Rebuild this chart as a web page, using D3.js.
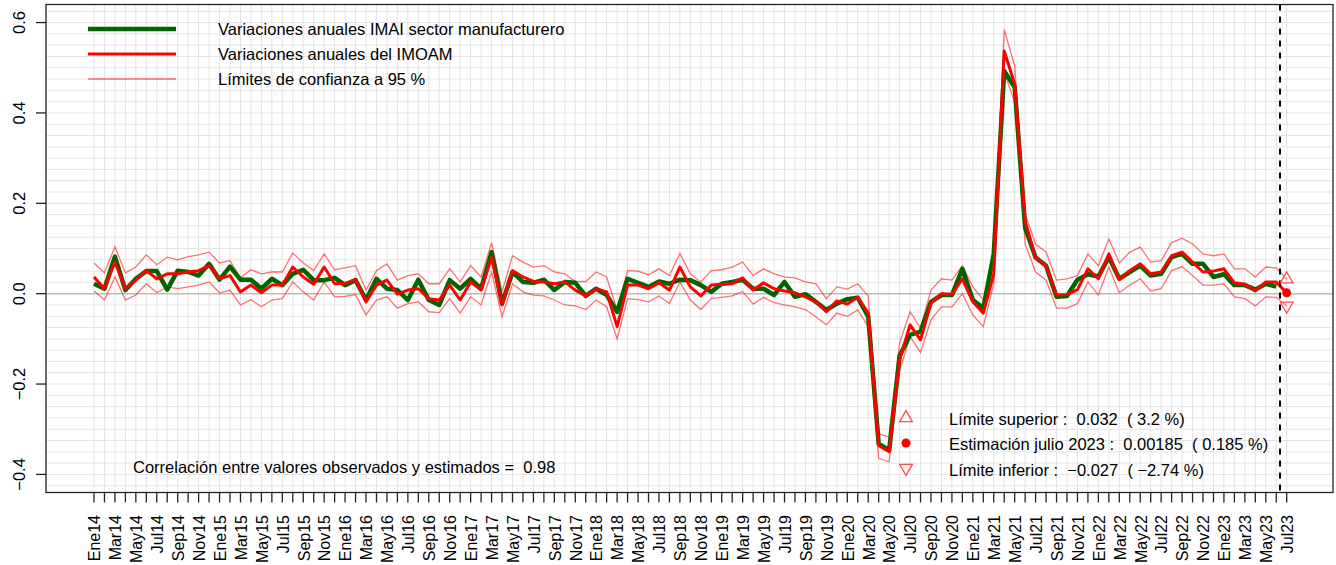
<!DOCTYPE html>
<html>
<head>
<meta charset="utf-8">
<script src="https://cdn.jsdelivr.net/npm/d3@7"></script>
<style>
  body { margin: 0; background: #fff; }
  svg { display: block; font-family: "Liberation Sans", Arial, sans-serif; }
  text { white-space: pre; fill: #000; }
</style>
</head>
<body>
<svg id="chart" width="1336" height="565"></svg>
<script>
// meses (etiquetas de eje)
const mesNombres = ["Ene","Feb","Mar","Abr","May","Jun","Jul","Ago","Sep","Oct","Nov","Dic"];
const anios = ["14","15","16","17","18","19","20","21","22","23"];

// variaciones anuales IMAI sector manufacturero (observado, Ene14 - Jun23)
const observado = [
  0.022, 0.011, 0.082, 0.008, 0.033, 0.050, 0.050, 0.009, 0.051, 0.048, 0.040, 0.066,
  0.031, 0.060, 0.031, 0.031, 0.011, 0.033, 0.019, 0.044, 0.053, 0.030, 0.030, 0.035,
  0.019, 0.030, -0.014, 0.033, 0.011, 0.008, -0.014, 0.031, -0.014, -0.025, 0.030, 0.011,
  0.033, 0.011, 0.092, -0.022, 0.048, 0.026, 0.024, 0.031, 0.008, 0.026, 0.024, -0.005,
  0.011, -0.003, -0.040, 0.033, 0.024, 0.015, 0.027, 0.022, 0.031, 0.030, 0.019, 0.004,
  0.022, 0.026, 0.031, 0.011, 0.011, -0.003, 0.026, -0.007, -0.001, -0.018, -0.036, -0.022,
  -0.012, -0.009, -0.051, -0.332, -0.347, -0.138, -0.091, -0.084, -0.018, -0.003, -0.003, 0.055,
  -0.014, -0.032, 0.088, 0.493, 0.457, 0.146, 0.080, 0.062, -0.007, -0.005, 0.031, 0.043,
  0.038, 0.081, 0.033, 0.048, 0.062, 0.040, 0.044, 0.081, 0.088, 0.066, 0.066, 0.037,
  0.043, 0.019, 0.019, 0.009, 0.022, 0.016
];

// variaciones anuales del IMOAM (estimado, Ene14 - Jul23)
const estimado = [
  0.037, 0.011, 0.070, 0.011, 0.030, 0.051, 0.033, 0.044, 0.044, 0.048, 0.051, 0.062,
  0.033, 0.040, 0.004, 0.019, 0.002, 0.019, 0.019, 0.059, 0.037, 0.021, 0.059, 0.022,
  0.023, 0.031, -0.018, 0.019, 0.030, -0.001, 0.008, 0.011, -0.011, -0.014, 0.019, -0.014,
  0.026, 0.008, 0.081, -0.025, 0.051, 0.037, 0.027, 0.026, 0.022, 0.026, 0.008, -0.005,
  0.011, 0.004, -0.073, 0.019, 0.019, 0.011, 0.024, 0.008, 0.059, 0.015, -0.005, 0.019,
  0.021, 0.022, 0.035, 0.008, 0.024, 0.011, 0.006, 0.002, -0.007, -0.018, -0.040, -0.016,
  -0.023, -0.008, -0.043, -0.336, -0.350, -0.146, -0.069, -0.102, -0.021, 0.000, -0.002, 0.033,
  -0.018, -0.043, 0.044, 0.537, 0.464, 0.161, 0.079, 0.062, -0.003, -0.002, 0.009, 0.055,
  0.033, 0.088, 0.031, 0.051, 0.066, 0.044, 0.048, 0.084, 0.092, 0.070, 0.048, 0.050,
  0.055, 0.024, 0.021, 0.006, 0.026, 0.026, 0.00185
];

// limites de confianza a 95 %
const limSup = [
  0.068, 0.046, 0.104, 0.046, 0.059, 0.086, 0.064, 0.081, 0.075, 0.082, 0.086, 0.092,
  0.068, 0.073, 0.035, 0.053, 0.044, 0.048, 0.048, 0.090, 0.068, 0.051, 0.088, 0.053,
  0.057, 0.062, 0.008, 0.051, 0.066, 0.030, 0.040, 0.044, 0.022, 0.022, 0.055, 0.026,
  0.062, 0.037, 0.113, 0.004, 0.084, 0.070, 0.059, 0.062, 0.048, 0.044, 0.027, 0.027,
  0.048, 0.037, -0.036, 0.051, 0.050, 0.042, 0.055, 0.040, 0.089, 0.044, 0.026, 0.051,
  0.053, 0.059, 0.070, 0.040, 0.055, 0.044, 0.037, 0.035, 0.026, 0.022, -0.011, 0.015,
  0.010, 0.022, -0.005, -0.310, -0.317, -0.109, -0.040, -0.076, 0.008, 0.033, 0.030, 0.062,
  0.015, -0.014, 0.077, 0.584, 0.504, 0.176, 0.110, 0.092, 0.030, 0.033, 0.040, 0.088,
  0.062, 0.121, 0.068, 0.092, 0.103, 0.070, 0.073, 0.113, 0.123, 0.110, 0.088, 0.084,
  0.088, 0.055, 0.055, 0.037, 0.059, 0.057, 0.032
];
const limInf = [
  0.006, -0.014, 0.037, -0.014, -0.003, 0.022, 0.002, 0.015, 0.011, 0.015, 0.019, 0.026,
  0.002, 0.008, -0.025, -0.013, -0.029, -0.014, -0.011, 0.026, 0.004, -0.014, 0.026, -0.007,
  -0.006, -0.002, -0.047, -0.014, -0.007, -0.032, -0.022, -0.018, -0.040, -0.042, -0.011, -0.043,
  -0.007, -0.025, 0.048, -0.051, 0.022, 0.004, -0.003, -0.005, -0.014, -0.025, -0.027, -0.035,
  -0.014, -0.029, -0.100, -0.011, -0.013, -0.018, -0.005, -0.022, 0.026, -0.014, -0.035, -0.011,
  -0.008, -0.005, 0.005, -0.023, -0.008, -0.020, -0.025, -0.029, -0.035, -0.051, -0.069, -0.043,
  -0.050, -0.036, -0.073, -0.365, -0.372, -0.171, -0.095, -0.130, -0.058, -0.029, -0.029, 0.000,
  -0.047, -0.073, 0.022, 0.490, 0.424, 0.110, 0.048, 0.030, -0.032, -0.032, -0.022, 0.026,
  -0.003, 0.059, 0.002, 0.019, 0.033, 0.006, 0.011, 0.051, 0.060, 0.040, 0.019, 0.019,
  0.022, -0.007, -0.011, -0.027, -0.007, -0.008, -0.027
];

const yTicks = [-0.4, -0.2, 0.0, 0.2, 0.4, 0.6];
const correlacion = "0.98";
const notas = [
  "Límite superior :  0.032  ( 3.2 %)",
  "Estimación julio 2023 :  0.00185  ( 0.185 %)",
  "Límite inferior :  \u22120.027  ( \u22122.74 %)"
];
const leyenda = [
  "Variaciones anuales IMAI sector manufacturero",
  "Variaciones anuales del IMOAM",
  "Límites de confianza a 95 %"
];

const meses = [];
anios.forEach(a => mesNombres.forEach(m => meses.push(m + a)));
meses.length = estimado.length;

const n = estimado.length;
const box = { left: 46, right: 1333, top: 4.5, bottom: 492.5 };
const fs = 16.5;

const x = d3.scaleLinear().domain([0, n - 1]).range([94, 1286.7]);
const y = d3.scaleLinear().domain([-0.44, 0.64]).range([box.bottom, box.top]);

const svg = d3.select("#chart");
const colorIC = "rgba(255,0,0,0.55)";

// rejilla
const grid = svg.append("g");
grid.selectAll("line.v").data(d3.range(n)).join("line")
  .attr("x1", d => x(d)).attr("x2", d => x(d))
  .attr("y1", box.top).attr("y2", box.bottom)
  .attr("stroke", "#e4e4e4").attr("stroke-width", 1);
grid.selectAll("line.h").data(d3.range(-17, 26).map(k => k * 0.025)).join("line")
  .attr("x1", box.left).attr("x2", box.right)
  .attr("y1", d => y(d)).attr("y2", d => y(d))
  .attr("stroke", "#e4e4e4").attr("stroke-width", 1);
svg.append("line")
  .attr("x1", box.left).attr("x2", box.right)
  .attr("y1", y(0)).attr("y2", y(0))
  .attr("stroke", "#bdbdbd").attr("stroke-width", 1.5);

// lineas
const linea = d3.line().x((d, i) => x(i)).y(d => y(d));
svg.append("path").datum(limSup).attr("d", linea)
  .attr("fill", "none").attr("stroke", colorIC).attr("stroke-width", 1.3);
svg.append("path").datum(limInf).attr("d", linea)
  .attr("fill", "none").attr("stroke", colorIC).attr("stroke-width", 1.3);
svg.append("path").datum(observado).attr("d", linea)
  .attr("fill", "none").attr("stroke", "#006400").attr("stroke-width", 4.5)
  .attr("stroke-linejoin", "round");
svg.append("path").datum(estimado).attr("d", linea)
  .attr("fill", "none").attr("stroke", "#ff0000").attr("stroke-width", 3)
  .attr("stroke-linejoin", "round");

// linea vertical punteada
svg.append("line")
  .attr("x1", x(n - 1.64)).attr("x2", x(n - 1.64))
  .attr("y1", box.top).attr("y2", box.bottom)
  .attr("stroke", "#000").attr("stroke-width", 2).attr("stroke-dasharray", "6,6");

// marcadores de la ultima estimacion
const triUp = d3.symbol().type(d3.symbolTriangle).size(70);
function tri(g, cx, cy, up) {
  g.append("path").attr("d", triUp())
    .attr("transform", `translate(${cx},${cy}) rotate(${up ? 0 : 180})`)
    .attr("fill", "none").attr("stroke", "#ff5050").attr("stroke-width", 1.3);
}
tri(svg, x(n - 1), y(limSup[n - 1]) , true);
tri(svg, x(n - 1), y(limInf[n - 1]), false);
svg.append("circle").attr("cx", x(n - 1)).attr("cy", y(estimado[n - 1]))
  .attr("r", 4.5).attr("fill", "#ff0000");

// caja
svg.append("rect")
  .attr("x", box.left).attr("y", box.top)
  .attr("width", box.right - box.left).attr("height", box.bottom - box.top)
  .attr("fill", "none").attr("stroke", "#222").attr("stroke-width", 1.3);

// eje y
const ejeY = svg.append("g");
ejeY.selectAll("line").data(yTicks).join("line")
  .attr("x1", box.left - 10).attr("x2", box.left)
  .attr("y1", d => y(d)).attr("y2", d => y(d))
  .attr("stroke", "#222").attr("stroke-width", 1.3);
ejeY.selectAll("text").data(yTicks).join("text")
  .attr("transform", d => `translate(25,${y(d)}) rotate(-90)`)
  .attr("text-anchor", "middle").attr("font-size", fs)
  .text(d => d3.format(".1f")(d).replace("-", "\u2212"));

// eje x
const ejeX = svg.append("g");
ejeX.selectAll("line").data(d3.range(n)).join("line")
  .attr("x1", d => x(d)).attr("x2", d => x(d))
  .attr("y1", box.bottom).attr("y2", box.bottom + 10)
  .attr("stroke", "#222").attr("stroke-width", 1.3);
ejeX.selectAll("text").data(d3.range(0, n, 2)).join("text")
  .attr("transform", d => `translate(${x(d) + 6.3},515) rotate(-90)`)
  .attr("text-anchor", "end").attr("font-size", 16)
  .text(d => meses[d]);

// leyenda
const colLey = ["#006400", "#ff0000", colorIC];
const anchoLey = [4.5, 3, 1.5];
leyenda.forEach((t, k) => {
  const cy = 29 + k * 25;
  svg.append("line").attr("x1", 88).attr("x2", 176).attr("y1", cy).attr("y2", cy)
    .attr("stroke", colLey[k]).attr("stroke-width", anchoLey[k]);
  svg.append("text").attr("x", 218).attr("y", cy + 6).attr("font-size", fs).text(t);
});

// notas
const yNotas = [418, 443, 469];
tri(svg, 906, yNotas[0], true);
svg.append("circle").attr("cx", 906).attr("cy", yNotas[1]).attr("r", 4.5).attr("fill", "#ff0000");
tri(svg, 906, yNotas[2] - 1, false);
notas.forEach((t, k) => {
  svg.append("text").attr("x", 949).attr("y", yNotas[k] + 6.5).attr("font-size", fs).text(t);
});

svg.append("text").attr("x", 133).attr("y", 473).attr("font-size", fs)
  .text("Correlación entre valores observados y estimados =  " + correlacion);
</script>
</body>
</html>
